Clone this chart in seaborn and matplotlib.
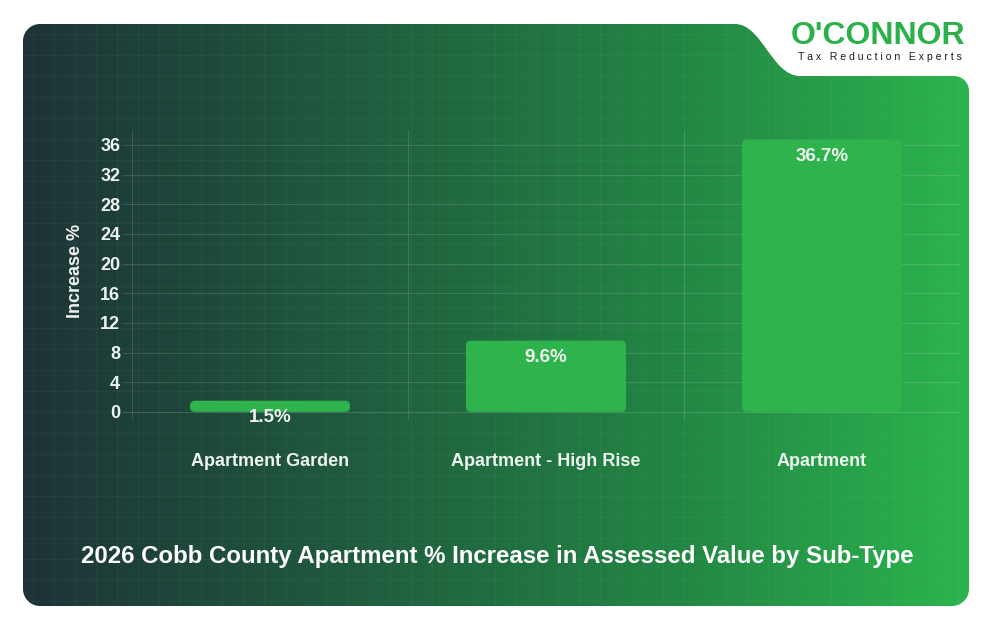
import numpy as np
import pandas as pd
import matplotlib
matplotlib.use("Agg")
import matplotlib.pyplot as plt
import seaborn as sns
from matplotlib.path import Path
from matplotlib.patches import PathPatch, FancyBboxPatch

# ---------------- data ----------------
categories = ["Apartment Garden", "Apartment - High Rise", "Apartment"]
increase_pct = [1.5, 9.6, 36.7]
y_ticks = [0, 4, 8, 12, 16, 20, 24, 28, 32, 36]
title_text = "2026 Cobb County Apartment % Increase in Assessed Value by Sub-Type"
y_label = "Increase %"
brand = "O'CONNOR"
tagline = "T a x   R e d u c t i o n   E x p e r t s"

# ---------------- style ----------------
sns.set_style("white")
plt.rcParams["font.family"] = ["Liberation Sans", "DejaVu Sans"]

W, H = 994, 632
fig = plt.figure(figsize=(W / 100, H / 100), dpi=100)
fig.patch.set_facecolor("white")

bar_color = "#2eb34d"
text_col = "#edf3ee"
grid_alpha = 0.13

# ---------------- background panel ----------------
bg = fig.add_axes([0, 0, 1, 1])
bg.set_xlim(0, W)
bg.set_ylim(H, 0)
bg.axis("off")

L, T, R, B = 23, 24, 969, 606
r, r2, k = 17, 15, 0.5523
notch_y = 76
verts = [
    (L + r, T),
    (735, T),
    (762, T), (772, notch_y), (800, notch_y),
    (R - r2, notch_y),
    (R - r2 + k * r2, notch_y), (R, notch_y + r2 - k * r2), (R, notch_y + r2),
    (R, B - r),
    (R, B - r + k * r), (R - r + k * r, B), (R - r, B),
    (L + r, B),
    (L + r - k * r, B), (L, B - r + k * r), (L, B - r),
    (L, T + r),
    (L, T + r - k * r), (L + r - k * r, T), (L + r, T),
    (L + r, T),
]
codes = [Path.MOVETO, Path.LINETO,
         Path.CURVE4, Path.CURVE4, Path.CURVE4,
         Path.LINETO,
         Path.CURVE4, Path.CURVE4, Path.CURVE4,
         Path.LINETO,
         Path.CURVE4, Path.CURVE4, Path.CURVE4,
         Path.LINETO,
         Path.CURVE4, Path.CURVE4, Path.CURVE4,
         Path.LINETO,
         Path.CURVE4, Path.CURVE4, Path.CURVE4,
         Path.CLOSEPOLY]
panel = PathPatch(Path(verts, codes), facecolor="none", edgecolor="none")
bg.add_patch(panel)

stops = np.array([0.0, 0.35, 0.7, 1.0])
cols = np.array([[29, 51, 55], [31, 92, 62], [35, 135, 68], [43, 180, 77]]) / 255.0
xs = np.linspace(0, 1, 600)
grad = np.stack([np.interp(xs, stops, cols[:, c]) for c in range(3)], axis=-1)
img = np.tile(grad[None, :, :], (4, 1, 1))
im = bg.imshow(img, extent=(L, R, B, T), aspect="auto", interpolation="bilinear", zorder=0)
im.set_clip_path(panel)

for gx in np.arange(L + 10, R, 21):
    ln = bg.plot([gx, gx], [T, B], color="white", alpha=0.035, lw=0.8, zorder=1)[0]
    ln.set_clip_path(panel)
for gy in np.arange(T + 10, B, 21):
    ln = bg.plot([L, R], [gy, gy], color="white", alpha=0.035, lw=0.8, zorder=1)[0]
    ln.set_clip_path(panel)

# ---------------- main chart ----------------
ax_l, ax_r, ax_t, ax_b = 132, 960, 130, 420
ax = fig.add_axes([ax_l / W, (H - ax_b) / H, (ax_r - ax_l) / W, (ax_b - ax_t) / H])
ax.patch.set_alpha(0)

df = pd.DataFrame({"Sub-Type": categories, "Increase": increase_pct})
sns.barplot(data=df, x="Sub-Type", y="Increase", ax=ax, color=bar_color,
            width=0.58, saturation=1, zorder=3)
ax.set_xlim(-0.5, 2.5)
ax.set_ylim(-1.1, 38)

# rounded bars
px_x = (ax_r - ax_l) / 3.0
px_y = (ax_b - ax_t) / (38 + 1.1)
rad_px = 5
for p in list(ax.patches):
    x0, w, h = p.get_x(), p.get_width(), p.get_height()
    p.set_visible(False)
    fb = FancyBboxPatch((x0, 0), w, h,
                        boxstyle=f"round,pad=0,rounding_size={rad_px / px_x}",
                        mutation_aspect=px_x / px_y,
                        facecolor=bar_color, edgecolor="none", zorder=3)
    ax.add_patch(fb)

for i, v in enumerate(increase_pct):
    ax.annotate(f"{v}%", xy=(i, v), xytext=(0, -12), textcoords="offset points",
                ha="center", va="center", color=text_col, fontsize=13.5,
                fontweight="bold", zorder=4)

ax.set_yticks(y_ticks)
ax.yaxis.grid(True, color="white", alpha=grid_alpha, lw=0.8)
ax.xaxis.grid(False)
ax.set_axisbelow(True)
for xv in [-0.5, 0.5, 1.5, 2.5]:
    ax.axvline(xv, color="white", alpha=grid_alpha, lw=0.8, zorder=1)
for s in ax.spines.values():
    s.set_visible(False)
ax.tick_params(axis="y", length=7, width=0.8, color=(1, 1, 1, grid_alpha),
               labelcolor=text_col, labelsize=13, pad=1.5, left=True)
ax.tick_params(axis="x", length=0, labelcolor=text_col, labelsize=13, pad=24)
for lbl in ax.get_yticklabels() + ax.get_xticklabels():
    lbl.set_fontweight("bold")
ax.set_xlabel("")
ax.set_ylabel("")

fig.text(75 / W, 1 - 271 / H, y_label, rotation=90, ha="center", va="center",
         color=text_col, fontsize=13, fontweight="bold")
fig.text(497 / W, 1 - 556 / H, title_text, ha="center", va="center",
         color="white", fontsize=17.3, fontweight="bold")

# ---------------- logo ----------------
fig.text(878 / W, 1 - 36 / H, brand, ha="center", va="center",
         color="#2bb04a", fontsize=23, fontweight="heavy")
fig.text(880 / W, 1 - 57 / H, tagline, ha="center", va="center",
         color="#1a1a1a", fontsize=7.6)

fig.savefig("out.png", dpi=100, facecolor=fig.get_facecolor())
